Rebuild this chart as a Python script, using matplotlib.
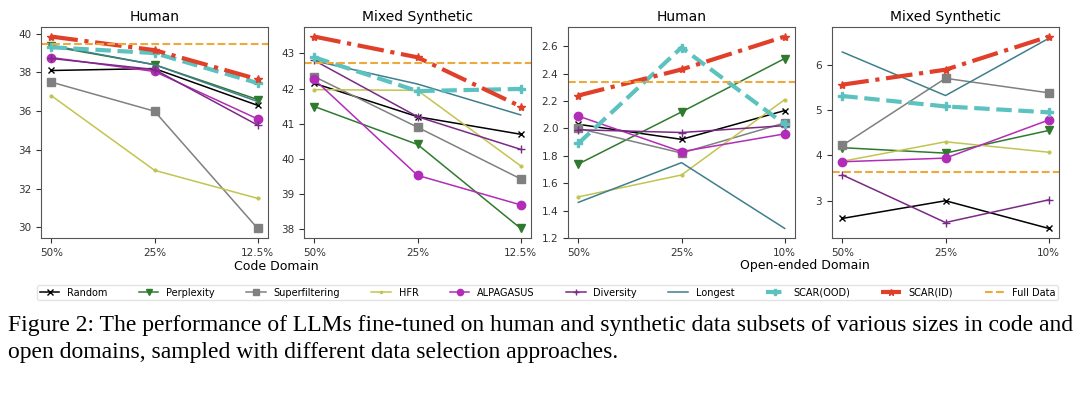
import matplotlib

matplotlib.use("Agg")
import matplotlib.pyplot as plt

# x categories
code_x = ["50%", "25%", "12.5%"]
open_x = ["50%", "25%", "10%"]

methods = ["Random", "Perplexity", "Superfiltering", "HFR", "ALPAGASUS",
           "Diversity", "Longest", "SCAR(OOD)", "SCAR(ID)"]

# values, one list per method per panel
code_human = {
    "Random": [38.1, 38.2, 36.3],
    "Perplexity": [39.35, 38.4, 36.6],
    "Superfiltering": [37.5, 36.0, 29.95],
    "HFR": [36.8, 32.95, 31.5],
    "ALPAGASUS": [38.77, 38.05, 35.6],
    "Diversity": [38.72, 38.15, 35.28],
    "Longest": [39.4, 38.4, 36.5],
    "SCAR(OOD)": [39.3, 39.0, 37.45],
    "SCAR(ID)": [39.85, 39.15, 37.65],
}
code_human_full = 39.49

code_mixed = {
    "Random": [42.15, 41.2, 40.7],
    "Perplexity": [41.49, 40.41, 38.02],
    "Superfiltering": [42.34, 40.9, 39.43],
    "HFR": [41.97, 41.95, 39.8],
    "ALPAGASUS": [42.26, 39.53, 38.69],
    "Diversity": [42.8, 41.2, 40.27],
    "Longest": [42.79, 42.13, 41.25],
    "SCAR(OOD)": [42.89, 41.93, 41.99],
    "SCAR(ID)": [43.48, 42.89, 41.49],
}
code_mixed_full = 42.73

open_human = {
    "Random": [2.03, 1.92, 2.13],
    "Perplexity": [1.74, 2.12, 2.51],
    "Superfiltering": [2.0, 1.82, 2.04],
    "HFR": [1.50, 1.66, 2.21],
    "ALPAGASUS": [2.09, 1.83, 1.96],
    "Diversity": [1.99, 1.97, 2.02],
    "Longest": [1.46, 1.75, 1.27],
    "SCAR(OOD)": [1.89, 2.59, 2.03],
    "SCAR(ID)": [2.24, 2.43, 2.67],
}
open_human_full = 2.34

open_mixed = {
    "Random": [2.61, 3.0, 2.39],
    "Perplexity": [4.17, 4.05, 4.55],
    "Superfiltering": [4.22, 5.70, 5.38],
    "HFR": [3.87, 4.30, 4.07],
    "ALPAGASUS": [3.86, 3.94, 4.78],
    "Diversity": [3.57, 2.52, 3.02],
    "Longest": [6.28, 5.32, 6.58],
    "SCAR(OOD)": [5.31, 5.08, 4.95],
    "SCAR(ID)": [5.56, 5.89, 6.62],
}
open_mixed_full = 3.64

STYLE = {
    "Random": dict(color="black", marker="x", lw=1.1, ms=5),
    "Perplexity": dict(color="#2f7a2f", marker="v", lw=1.1, ms=5.5),
    "Superfiltering": dict(color="#808080", marker="s", lw=1.1, ms=5.5),
    "HFR": dict(color="#c3c450", marker=".", lw=1.1, ms=4),
    "ALPAGASUS": dict(color="#b22cb8", marker="o", lw=1.1, ms=6),
    "Diversity": dict(color="#7a2a84", marker="+", lw=1.1, ms=6),
    "Longest": dict(color="#3f7f8c", marker=None, lw=1.1),
    "SCAR(OOD)": dict(color="#5cc2c0", marker="P", ls="--", lw=3, ms=6),
    "SCAR(ID)": dict(color="#e0402a", marker="*", ls="-.", lw=3, ms=6),
}
FULL_COLOR = "#eda93a"

panels = [
    ("Human", code_x, code_human, code_human_full, 41),
    ("Mixed Synthetic", code_x, code_mixed, code_mixed_full, 304),
    ("Human", open_x, open_human, open_human_full, 568),
    ("Mixed Synthetic", open_x, open_mixed, open_mixed_full, 832),
]

W, H = 1080, 394
fig = plt.figure(figsize=(W / 100, H / 100), dpi=100)

handles = []
for title, xs, data, full, left in panels:
    ax = fig.add_axes([left / W, (H - 238) / H, 227 / W, 211 / H])
    pos = list(range(len(xs)))
    handles = []
    for m in methods:
        (h,) = ax.plot(pos, data[m], label=m, **STYLE[m])
        handles.append(h)
    hf = ax.axhline(full, color=FULL_COLOR, ls="--", lw=1.5, label="Full Data")
    handles.append(hf)
    ax.set_xticks(pos)
    ax.set_xticklabels(xs)
    ax.tick_params(labelsize=7.5, colors="#333333")
    for s in ax.spines.values():
        s.set_color("#555555")
    ax.set_title(title, fontsize=10, pad=4)

fig.text(276 / W, 1 - 266 / H, "Code Domain", ha="center", va="center", fontsize=9)
fig.text(805 / W, 1 - 266 / H, "Open-ended Domain", ha="center", va="center", fontsize=9)

fig.legend(handles, methods + ["Full Data"], loc="center", ncol=10, mode="expand",
           bbox_to_anchor=(32 / W, 1 - 302 / H, (1063 - 32) / W, 19 / H),
           fontsize=7, handlelength=2.0, frameon=True, edgecolor="#dddddd",
           borderpad=0.3, markerscale=0.75)

caption = ("Figure 2: The performance of LLMs fine-tuned on human and synthetic data subsets "
           "of various sizes in code and\nopen domains, sampled with different data selection approaches.")
fig.text(8 / W, 1 - 315 / H, caption, ha="left", va="top", fontsize=17,
         family="Liberation Serif", linespacing=1.35)

fig.savefig("out.png", dpi=100)
